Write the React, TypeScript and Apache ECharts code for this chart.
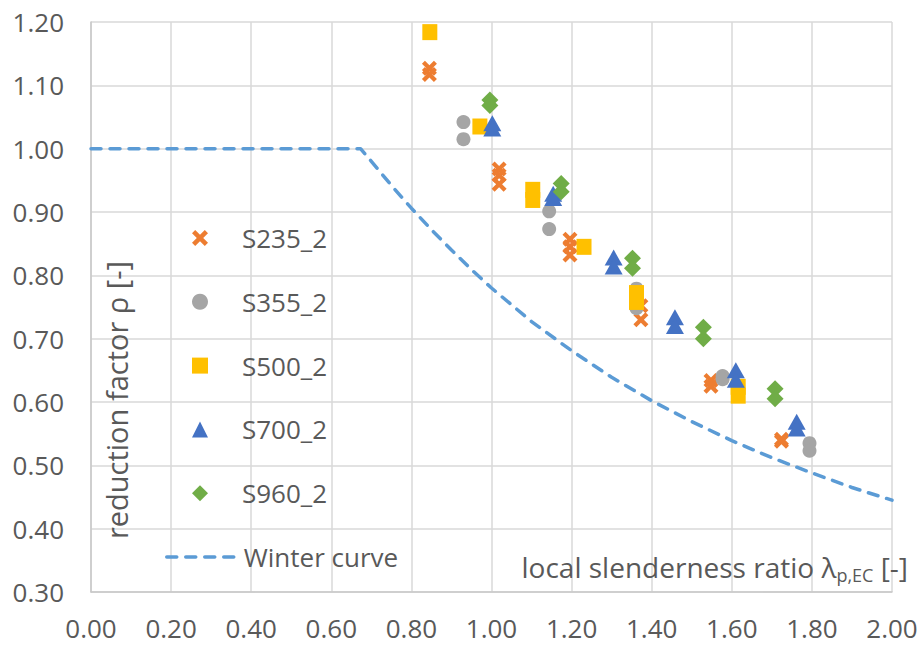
import React, { useEffect, useRef } from "react";
import * as echarts from "echarts";

const seriesNames = ["S235_2", "S355_2", "S500_2", "S700_2", "S960_2"];
const seriesColors = ["#ED7D31", "#A5A5A5", "#FFC000", "#4472C4", "#70AD47"];

const s235: number[][] = [
  [0.845, 1.127], [0.845, 1.117], [1.019, 0.968], [1.019, 0.958], [1.019, 0.944],
  [1.196, 0.857], [1.196, 0.845], [1.196, 0.832], [1.373, 0.752], [1.373, 0.730],
  [1.548, 0.634], [1.548, 0.625], [1.724, 0.541], [1.724, 0.538],
];
const s355: number[][] = [
  [0.930, 1.042], [0.930, 1.015], [1.144, 0.901], [1.144, 0.873], [1.362, 0.779],
  [1.362, 0.748], [1.577, 0.641], [1.577, 0.636], [1.794, 0.535], [1.794, 0.523],
];
const s500: number[][] = [
  [0.846, 1.184], [0.971, 1.035], [1.103, 0.935], [1.103, 0.919], [1.231, 0.845],
  [1.362, 0.772], [1.362, 0.758], [1.616, 0.624], [1.616, 0.610],
];
const s700: number[][] = [
  [1.002, 1.040], [1.002, 1.032], [1.154, 0.929], [1.154, 0.922], [1.305, 0.828],
  [1.305, 0.814], [1.458, 0.734], [1.458, 0.720], [1.610, 0.650], [1.610, 0.635],
  [1.762, 0.569], [1.762, 0.558],
];
const s960: number[][] = [
  [0.996, 1.077], [0.996, 1.068], [1.174, 0.945], [1.174, 0.932], [1.352, 0.827],
  [1.352, 0.811], [1.529, 0.718], [1.529, 0.700], [1.708, 0.621], [1.708, 0.605],
];

const winterLambda = [0, 0.673, 0.7, 0.75, 0.8, 0.85, 0.9, 0.95, 1.0, 1.1, 1.2, 1.3, 1.4, 1.5, 1.6, 1.7, 1.8, 1.9, 2.0];
const winterRho = [1.0, 1.0, 0.98, 0.942, 0.906, 0.872, 0.84, 0.809, 0.78, 0.727, 0.681, 0.639, 0.602, 0.569, 0.539, 0.512, 0.488, 0.465, 0.445];

const xAxisMin = 0;
const xAxisMax = 2;
const xAxisStep = 0.2;
const yAxisMin = 0.3;
const yAxisMax = 1.2;
const yAxisStep = 0.1;

const yTitle = "reduction factor ρ [-]";
const winterName = "Winter curve";

const crossPath =
  "path://M0,2 L2,0 L5,3 L8,0 L10,2 L7,5 L10,8 L8,10 L5,7 L2,10 L0,8 L3,5 Z";

const FONT = "'Open Sans', 'Noto Sans', sans-serif";
const TEXT = "#595959";
const WINTER_COLOR = "#5B9BD5";
const WINTER_DASH = [10, 9];

export default function App() {
  const ref = useRef<HTMLDivElement>(null);

  useEffect(() => {
    document.body.style.margin = "0";
    if (!ref.current) return;
    const chart = echarts.init(ref.current, undefined, { renderer: "svg" });

    const dataSets = [s235, s355, s500, s700, s960];
    const symbols = [crossPath, "circle", "rect", "triangle", "diamond"];
    const sizes: any[] = [[15, 15], 14, [15, 16], [18, 16], [17, 17]];

    const scatterSeries = dataSets.map((d, i) => ({
      name: seriesNames[i],
      type: "scatter",
      data: d,
      symbol: symbols[i],
      symbolSize: sizes[i],
      itemStyle: { color: seriesColors[i], opacity: 1 },
      z: 3,
    }));

    const winterData = winterLambda.map((l, i) => [l, winterRho[i]]);

    chart.setOption({
      animation: false,
      textStyle: { fontFamily: FONT },
      grid: { left: 91, right: 30, top: 22, bottom: 53, containLabel: false },
      xAxis: {
        type: "value",
        min: xAxisMin,
        max: xAxisMax,
        interval: xAxisStep,
        axisLine: { show: true, lineStyle: { color: "#C8C8C8", width: 1.5 } },
        axisTick: { show: false },
        splitLine: { show: true, lineStyle: { color: "#D9D9D9", width: 1.5 } },
        axisLabel: {
          formatter: (v: number) => v.toFixed(2),
          fontSize: 26,
          lineHeight: 26,
          color: TEXT,
          margin: 23,
          fontFamily: FONT,
        },
      },
      yAxis: {
        type: "value",
        min: yAxisMin,
        max: yAxisMax,
        interval: yAxisStep,
        axisLine: { show: true, lineStyle: { color: "#C8C8C8", width: 1.5 } },
        axisTick: { show: false },
        splitLine: { show: true, lineStyle: { color: "#D9D9D9", width: 1.5 } },
        axisLabel: {
          formatter: (v: number) => v.toFixed(2),
          fontSize: 26,
          color: TEXT,
          margin: 27,
          fontFamily: FONT,
        },
      },
      legend: [
        {
          orient: "vertical",
          left: 192,
          top: 225,
          padding: 0,
          itemWidth: 16,
          itemHeight: 16,
          itemGap: 37.8,
          data: seriesNames,
          textStyle: {
            fontSize: 26,
            lineHeight: 26,
            color: TEXT,
            fontFamily: FONT,
            padding: [0, 0, 0, 29],
          },
          selectedMode: false,
        },
        {
          orient: "vertical",
          left: 165,
          top: 544,
          padding: 0,
          itemWidth: 70,
          itemHeight: 16,
          data: [winterName],
          itemStyle: { opacity: 0 },
          lineStyle: { color: WINTER_COLOR, width: 3.5, type: WINTER_DASH, cap: "round" },
          textStyle: {
            fontSize: 26,
            lineHeight: 26,
            color: TEXT,
            fontFamily: FONT,
            padding: [0, 0, 0, 2],
          },
          selectedMode: false,
        },
      ],
      graphic: [
        {
          type: "text",
          x: 116,
          y: 400,
          rotation: Math.PI / 2,
          z: 10,
          style: {
            text: yTitle,
            fontSize: 29,
            fontFamily: FONT,
            fill: TEXT,
            align: "center",
            verticalAlign: "middle",
          },
        },
        {
          type: "text",
          x: 908,
          y: 567,
          z: 10,
          style: {
            text: "local slenderness ratio λ{sub|p,EC} [-]",
            fontSize: 28,
            fontFamily: FONT,
            fill: TEXT,
            align: "right",
            verticalAlign: "middle",
            rich: {
              sub: {
                fontSize: 18,
                fontFamily: FONT,
                fill: TEXT,
                padding: [16, 0, 0, 0],
              },
            },
          },
        },
      ],
      series: [
        ...scatterSeries,
        {
          name: winterName,
          type: "line",
          data: winterData,
          symbol: "none",
          smooth: false,
          lineStyle: { color: WINTER_COLOR, width: 3.5, type: WINTER_DASH, cap: "round" },
          itemStyle: { color: WINTER_COLOR },
          z: 2,
        },
      ],
    });

    return () => chart.dispose();
  }, []);

  return (
    <div
      ref={ref}
      style={{ position: "absolute", left: 0, top: 0, width: 922, height: 645 }}
    />
  );
}
